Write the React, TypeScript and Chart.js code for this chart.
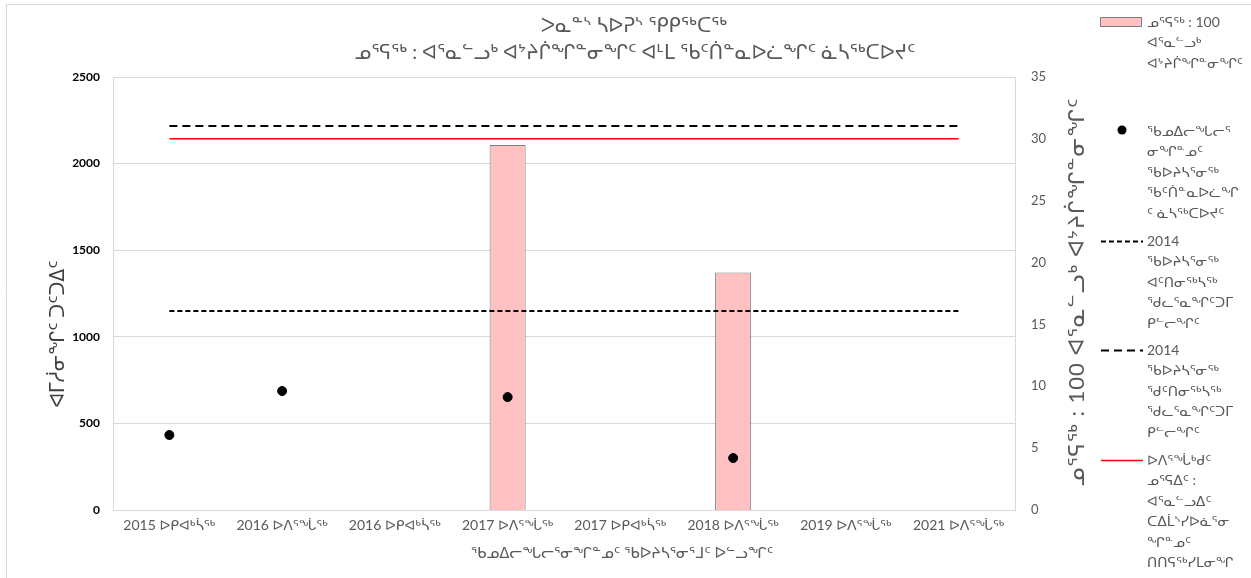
import React, { useEffect, useRef } from "react";
import { Chart, registerables } from "chart.js";

Chart.register(...registerables);

// ---- data ----
const categories = [
  "2015 ᐅᑭᐊᒃᓵᖅ",
  "2016 ᐅᐱᕐᖔᖅ",
  "2016 ᐅᑭᐊᒃᓵᖅ",
  "2017 ᐅᐱᕐᖔᖅ",
  "2017 ᐅᑭᐊᒃᓵᖅ",
  "2018 ᐅᐱᕐᖔᖅ",
  "2019 ᐅᐱᕐᖔᖅ",
  "2021 ᐅᐱᕐᖔᖅ",
];
const calfCowRatio = [null, null, null, 29.5, null, 19.2, null, null];
const herdEstimate = [433, 687, null, 652, null, 300, null, null];
const lowerCL2014 = [1149, 1149, 1149, 1149, 1149, 1149, 1149, 1149];
const upperCL2014 = [2217, 2217, 2217, 2217, 2217, 2217, 2217, 2217];
const springThreshold = [30, 30, 30, 30, 30, 30, 30, 30];

// ---- text ----
const titleLines = [
  "ᐳᓇᓐᔅ ᓴᐅᕈᔅ ᕿᑭᖅᑕᖅ",
  "ᓄᕐᕋᖅ : ᐊᕐᓇᓪᓗᒃ ᐊᔾᔨᒌᖏᓐᓂᖏᑦ ᐊᒻᒪ ᖃᑦᑏᓐᓇᐅᓛᖏᑦ ᓈᓴᖅᑕᐅᔪᑦ",
];
const leftAxisTitle = "ᐊᒥᓲᓂᖏᑦ ᑐᑦᑐᐃᑦ";
const rightAxisTitle = "ᓄᕐᕋᖅ : 100 ᐊᕐᓇᓪᓗᒃ ᐊᔾᔨᒌᖏᓐᓂᖏᑦ";
const xAxisTitle = "ᖃᓄᐃᓕᖓᓕᕐᓂᖏᓐᓄᑦ ᖃᐅᔨᓴᕐᓂᕐᒧᑦ ᐅᓪᓗᖏᑦ";
const legendRatio = ["ᓄᕐᕋᖅ : 100", "ᐊᕐᓇᓪᓗᒃ", "ᐊᔾᔨᒌᖏᓐᓂᖏᑦ"];
const legendHerd = ["ᖃᓄᐃᓕᖓᓕᕐ", "ᓂᖏᓐᓄᑦ", "ᖃᐅᔨᓴᕐᓂᖅ", "ᖃᑦᑏᓐᓇᐅᓛᖏ", "ᑦ ᓈᓴᖅᑕᐅᔪᑦ"];
const legendLower = ["2014", "ᖃᐅᔨᓴᕐᓂᖅ", "ᐊᑦᑎᓂᖅᓴᖅ", "ᖁᓚᕐᓇᖏᑦᑐᒥ", "ᑭᓪᓕᖏᑦ"];
const legendUpper = ["2014", "ᖃᐅᔨᓴᕐᓂᖅ", "ᖁᑦᑎᓂᖅᓴᖅ", "ᖁᓚᕐᓇᖏᑦᑐᒥ", "ᑭᓪᓕᖏᑦ"];
const legendThreshold = [
  "ᐅᐱᕐᖔᒃᑯᑦ",
  "ᓄᕐᕋᐃᑦ :",
  "ᐊᕐᓇᓪᓗᐃᑦ",
  "ᑕᐃᒫᔅᓯᐅᓈᕐᓂ",
  "ᖏᓐᓄᑦ",
  "ᑎᑎᕋᖅᓯᒪᓂᖏ",
  "ᑦ",
];

const FONT = "Lato, 'DejaVu Sans', sans-serif";
const GRAY = "#595959";
const GRID = "#d9d9d9";
const PINK = "#ffc1c1";
const BAR_BORDER = "#7f7f7f";
const RED = "#ff0000";

const W = 1251;
const H = 578;

const overlayPlugin = {
  id: "overlay",
  beforeDraw(chart: any) {
    const ctx = chart.ctx;
    ctx.save();
    ctx.strokeStyle = GRID;
    ctx.lineWidth = 1;
    ctx.beginPath();
    ctx.moveTo(6.5, H);
    ctx.lineTo(6.5, 4.5);
    ctx.lineTo(W, 4.5);
    ctx.stroke();
    ctx.restore();
  },
  afterDraw(chart: any) {
    const ctx = chart.ctx;
    const ds = chart.data.datasets;
    ctx.save();
    ctx.fillStyle = GRAY;
    ctx.textBaseline = "middle";

    // chart title
    ctx.font = `19.5px ${FONT}`;
    ctx.textAlign = "center";
    ctx.fillText(titleLines[0], 634, 26);
    ctx.fillText(titleLines[1], 635, 53);

    // x axis title
    ctx.font = `15px ${FONT}`;
    ctx.fillText(xAxisTitle, 622, 553);

    // left axis title
    ctx.save();
    ctx.translate(58, 334);
    ctx.rotate(-Math.PI / 2);
    ctx.font = `19px ${FONT}`;
    ctx.fillStyle = "#404040";
    ctx.fillText(leftAxisTitle, 0, 0);
    ctx.restore();

    // right axis title
    ctx.save();
    ctx.translate(1077, 292);
    ctx.rotate(-Math.PI / 2);
    ctx.font = `22px ${FONT}`;
    (ctx as any).letterSpacing = "1px";
    ctx.fillText(rightAxisTitle, 0, 0);
    (ctx as any).letterSpacing = "0px";
    ctx.restore();

    // legend
    ctx.textAlign = "left";
    ctx.font = `14px ${FONT}`;
    const tx = 1147;
    const lh = 20.5;
    const drawLines = (lines: string[], y0: number) => {
      lines.forEach((l, i) => ctx.fillText(l, tx, y0 + i * lh));
    };
    const starts = [22, 131, 241, 350, 460];

    // entry 1: bar swatch
    ctx.fillStyle = ds[0].backgroundColor;
    ctx.fillRect(1100, 17, 42, 10);
    ctx.strokeStyle = ds[0].borderColor;
    ctx.lineWidth = 1;
    ctx.strokeRect(1100.5, 17.5, 41, 9);
    ctx.fillStyle = GRAY;
    drawLines(legendRatio, starts[0]);

    // entry 2: point
    ctx.fillStyle = "#000";
    ctx.beginPath();
    ctx.arc(1122, starts[1] - 1, 4.5, 0, Math.PI * 2);
    ctx.fill();
    ctx.fillStyle = GRAY;
    drawLines(legendHerd, starts[1]);

    // line entries
    const lineEntry = (d: any, lines: string[], y0: number) => {
      ctx.save();
      ctx.strokeStyle = d.borderColor;
      ctx.lineWidth = d.borderWidth;
      ctx.setLineDash(d.borderDash || []);
      ctx.beginPath();
      ctx.moveTo(1101, y0 + 0.5);
      ctx.lineTo(1143, y0 + 0.5);
      ctx.stroke();
      ctx.restore();
      ctx.fillStyle = GRAY;
      drawLines(lines, y0);
    };
    lineEntry(ds[2], legendLower, starts[2]);
    lineEntry(ds[3], legendUpper, starts[3]);
    lineEntry(ds[4], legendThreshold, starts[4]);

    ctx.restore();
  },
};

export default function App() {
  const canvasRef = useRef<HTMLCanvasElement | null>(null);

  useEffect(() => {
    if (!canvasRef.current) return;
    const chart = new Chart(canvasRef.current, {
      type: "bar",
      data: {
        labels: categories,
        datasets: [
          {
            type: "bar",
            label: legendRatio.join(" "),
            data: calfCowRatio,
            yAxisID: "y1",
            backgroundColor: PINK,
            borderColor: BAR_BORDER,
            borderWidth: 1,
            barPercentage: 0.32,
            categoryPercentage: 1,
            order: 10,
          },
          {
            type: "line",
            label: legendHerd.join(""),
            data: herdEstimate,
            yAxisID: "y",
            showLine: false,
            pointRadius: 4.5,
            pointBackgroundColor: "#000",
            pointBorderColor: "#000",
            borderColor: "#000",
            order: 1,
          },
          {
            type: "line",
            label: legendLower.join(" "),
            data: lowerCL2014,
            yAxisID: "y",
            borderColor: "#000",
            borderWidth: 2,
            borderDash: [5, 3],
            pointRadius: 0,
            order: 2,
          },
          {
            type: "line",
            label: legendUpper.join(" "),
            data: upperCL2014,
            yAxisID: "y",
            borderColor: "#000",
            borderWidth: 2,
            borderDash: [8, 5],
            pointRadius: 0,
            order: 3,
          },
          {
            type: "line",
            label: legendThreshold.join(""),
            data: springThreshold,
            yAxisID: "y1",
            borderColor: RED,
            borderWidth: 1.5,
            pointRadius: 0,
            order: 4,
          },
        ],
      },
      options: {
        responsive: false,
        animation: false,
        maintainAspectRatio: false,
        layout: { padding: { top: 77, left: 0, right: 0, bottom: 0 } },
        plugins: {
          legend: { display: false },
          title: { display: false },
          tooltip: { enabled: false },
        },
        scales: {
          x: {
            grid: { display: false, drawTicks: false },
            border: { display: true, color: GRID },
            ticks: {
              color: GRAY,
              font: { family: FONT, size: 14 },
              padding: 7,
              maxRotation: 0,
              autoSkip: false,
            },
            afterFit: (s: any) => {
              s.height = 68;
            },
          },
          y: {
            position: "left",
            min: 0,
            max: 2500,
            ticks: {
              stepSize: 500,
              color: "#000",
              font: { family: FONT, size: 12, weight: "bold" },
              padding: 13,
              callback: (v: any) => String(v),
            },
            grid: { color: GRID, drawTicks: false },
            border: { display: true, color: GRID },
            afterFit: (s: any) => {
              s.width = 113;
            },
          },
          y1: {
            position: "right",
            min: 0,
            max: 35,
            ticks: {
              stepSize: 5,
              color: GRAY,
              font: { family: FONT, size: 13 },
              padding: 16,
              callback: (v: any) => String(v),
            },
            grid: { display: false, drawTicks: false },
            border: { display: true, color: GRID },
            afterFit: (s: any) => {
              s.width = W - 1015;
            },
          },
        },
      },
      plugins: [overlayPlugin],
    } as any);
    return () => chart.destroy();
  }, []);

  return (
    <div style={{ position: "fixed", left: 0, top: 0, width: W, height: H, background: "#fff" }}>
      <canvas ref={canvasRef} width={W} height={H} style={{ display: "block", width: W, height: H }} />
    </div>
  );
}
